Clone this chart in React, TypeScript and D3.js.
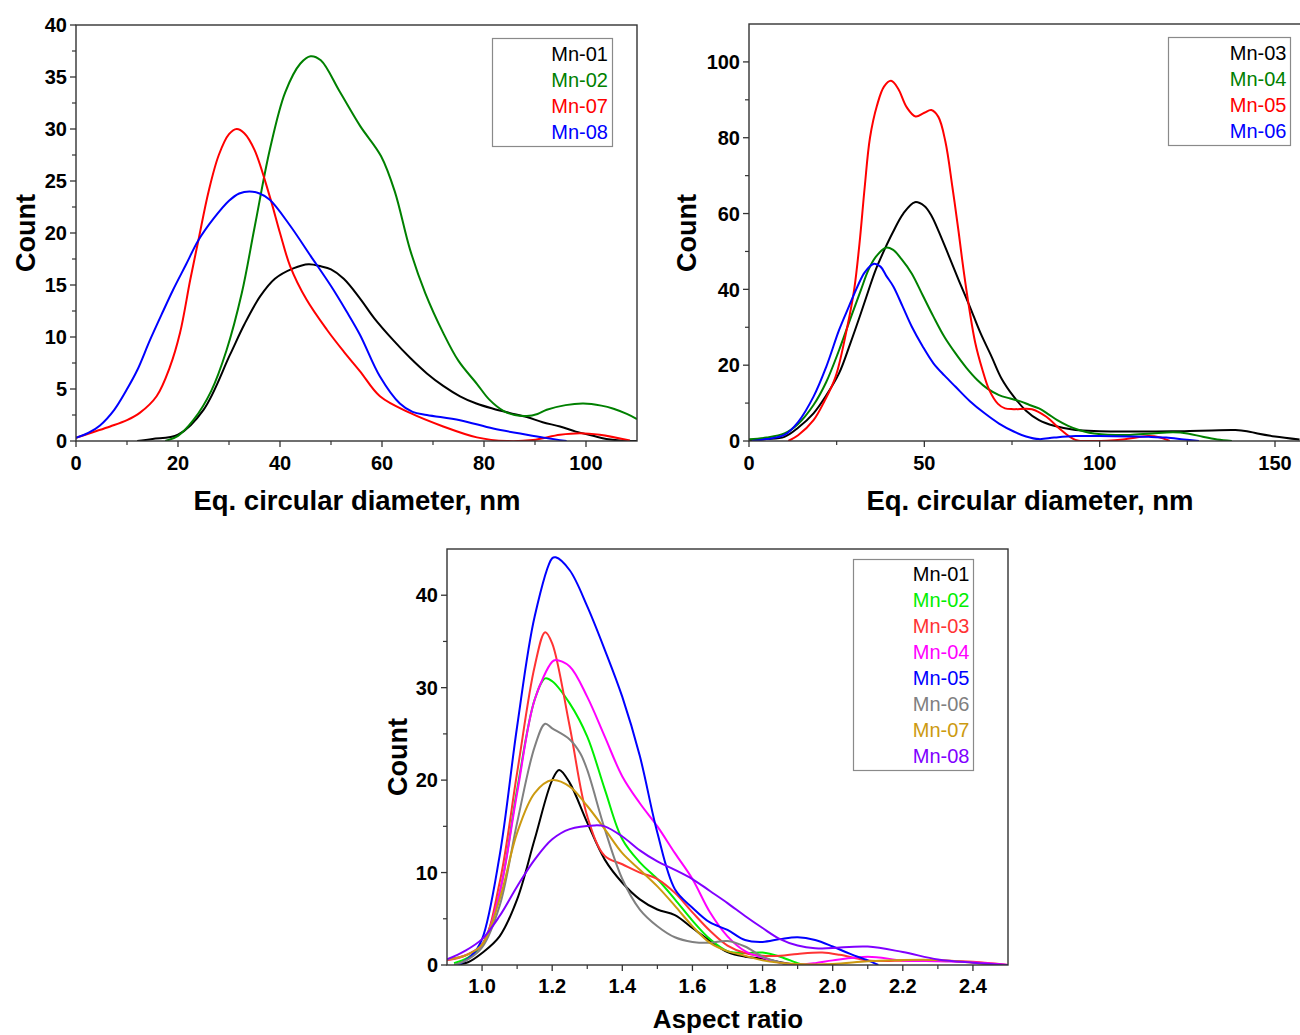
import React from "react";
import * as d3 from "d3";

type Pt = [number, number];

// ---------- Panel A: equivalent circular diameter (Mn-01, 02, 07, 08) ----------
const diamA_mn01: Pt[] = [[12,0],[15,0.2],[20,0.6],[25,3],[30.2,8.3],[33,11.2],[36.1,13.9],[39,15.6],[42.6,16.6],[45.6,17],[48,16.8],[50,16.5],[52.5,15.6],[55.7,13.7],[58.5,11.8],[62.2,9.7],[65.5,8],[68.8,6.5],[72,5.3],[75.3,4.3],[78.5,3.6],[81.8,3.1],[85,2.7],[88.4,2.3],[91.5,1.8],[94.9,1.4],[98,0.9],[101.4,0.5],[104,0.2],[106.7,0.05],[110,0]];
const diamA_mn02: Pt[] = [[17.5,0],[20,0.5],[23,2],[26.5,4.8],[29.5,8.7],[32.5,14.2],[35,20.5],[38,28],[41,33.5],[44,36.3],[46,37],[48,36.6],[51.7,33.6],[55.7,30.3],[59.8,27.4],[62.5,24],[65.5,18.4],[68.5,14.2],[72,10.4],[75,7.7],[78.6,5.5],[81,4],[83.8,2.9],[86,2.5],[88.4,2.4],[90.5,2.6],[92.3,3.0],[96,3.45],[99.5,3.6],[103,3.4],[105.4,3.1],[108,2.6],[110,2.1]];
const diamA_mn07: Pt[] = [[0,0.3],[3,0.8],[6.7,1.4],[10,2],[12.5,2.7],[15.8,4.3],[18.4,7.1],[20.4,10.4],[22.4,15.5],[24,19.3],[26,24],[28,27.5],[30,29.5],[31.5,30],[33,29.6],[35,28],[38,23.5],[40,20],[42,16.8],[45.2,13.6],[49.2,10.7],[52.5,8.6],[55.7,6.7],[59.6,4.3],[65.5,2.7],[72,1.4],[78.6,0.35],[84.5,0],[89.6,0.1],[94.9,0.6],[98.8,0.75],[102.7,0.6],[108.6,0.05]];
const diamA_mn08: Pt[] = [[0,0.3],[2.5,0.8],[4.7,1.5],[7.5,3],[9.9,4.9],[12,6.8],[14.5,9.7],[17,12.4],[19,14.5],[21.5,16.9],[24,19.3],[27,21.4],[30,23.1],[32,23.8],[34,24],[36,23.8],[38,23.2],[42,20.7],[46,17.8],[50,14.9],[53,12.5],[55.7,10.2],[59.6,6.2],[63.5,3.6],[66,2.8],[68.8,2.5],[75.3,2.0],[81.8,1.2],[88.4,0.6],[92,0.3],[96.2,0]];

// ---------- Panel B: equivalent circular diameter (Mn-03..06) ----------
const diamB_mn03: Pt[] = [[0,0.2],[5,0.5],[10.1,1.1],[14,3.5],[18.4,7.3],[22,12],[25.7,17.9],[28.8,25.5],[31.9,33.7],[34,39.5],[36.1,45.1],[38.6,50.4],[41,55],[44,60],[47.3,63],[50,62],[52,59.5],[54,55.5],[56.3,50.4],[60,42],[63,35.4],[66,28.5],[69.2,22.2],[72,16.5],[75.5,11.7],[79,8],[82.7,5.5],[87,4],[93.1,2.9],[100,2.6],[108.6,2.5],[116,2.5],[124.2,2.6],[132,2.8],[138.7,2.9],[142,2.6],[145,2.0],[150,1.2],[157,0.4]];
const diamB_mn04: Pt[] = [[0,0.45],[5,0.9],[10.1,2],[14,4.5],[18.4,9.5],[22,15.5],[25.7,24],[29,32.5],[31.9,39.8],[34,45],[36.1,48.5],[39,51],[41,50.5],[43.5,48],[46.4,44.2],[49.5,38.5],[52.6,32.8],[55.7,27.5],[58.9,23.1],[62,19.3],[65.1,16.1],[68,13.8],[71.3,12.1],[74.5,11.2],[77.6,10.4],[80,9.5],[82.7,8.6],[85.3,7.1],[87.9,5.5],[91,4],[94.1,2.9],[97,2.2],[100.4,1.8],[104.5,1.6],[108.6,1.6],[115,2],[121,2.3],[125,2],[129.4,1.1],[133.5,0.4],[137.7,0]];
const diamB_mn05: Pt[] = [[11.2,0],[14,1.5],[18.4,5.5],[21.5,10.5],[24.7,17],[28,30],[30,40],[31.5,52],[33,67],[34.5,80],[36.5,88.5],[38.5,93.5],[40.5,95],[42.5,93],[45,88],[47.5,85.6],[50,86.6],[52,87.3],[54,85.5],[56,79],[58,67],[59.8,55],[61.2,45],[62.8,35],[64.5,26],[66.5,19],[68.5,13.5],[71,9.8],[73,8.6],[75.5,8.4],[80.7,8.4],[84.8,6.4],[89,2.9],[93.1,0.3],[98.3,0],[106.6,0.4],[113.8,1.3],[117,1.0],[120,0]];
const diamB_mn06: Pt[] = [[0.8,0],[5,0.5],[10.1,1.6],[14,5],[18.4,11.7],[22,19.5],[25.7,29.3],[28.5,35.5],[30.9,40.7],[33,44.5],[35.5,46.7],[37.5,46],[39.2,43.5],[41.2,40.7],[43.8,35.5],[46.4,30.2],[49.5,25],[52.6,20.5],[55.7,17.3],[58.9,14.3],[63,10.5],[67.2,7.3],[71.3,4.6],[75.5,2.5],[79,1.2],[82.7,0.5],[87,0.9],[93.1,1.3],[100,1.3],[108.6,1.2],[114,1.1],[119,0.9],[124,0.4],[128.3,0]];

// ---------- Panel C: aspect ratio (Mn-01..08) ----------
const ar_mn01: Pt[] = [[0.92,0],[0.96,0.3],[1.0,1.3],[1.05,3.1],[1.1,7.1],[1.15,13.6],[1.2,20],[1.22,21.1],[1.25,19.7],[1.3,15.4],[1.35,11.4],[1.4,8.9],[1.45,7.1],[1.5,6.0],[1.55,5.4],[1.6,4.0],[1.65,2.6],[1.7,1.4],[1.75,0.9],[1.8,0.7],[1.85,0.3],[1.9,0]];
const ar_mn02: Pt[] = [[0.92,0.2],[0.96,0.8],[1.0,2.2],[1.05,7.8],[1.1,19],[1.15,28.7],[1.18,31],[1.2,30.7],[1.25,28.3],[1.3,24.7],[1.35,19],[1.4,13.6],[1.45,11.1],[1.5,9.3],[1.55,7.1],[1.6,4.8],[1.65,2.8],[1.7,1.5],[1.75,1.3],[1.8,1.35],[1.85,0.9],[1.9,0.2],[1.92,0]];
const ar_mn03: Pt[] = [[0.9,0.5],[0.95,1.0],[1.0,2.2],[1.05,8.9],[1.1,20.8],[1.15,32.3],[1.18,36],[1.2,34.8],[1.25,25.8],[1.3,16.1],[1.35,11.8],[1.4,10.9],[1.45,10],[1.5,9.3],[1.55,7.8],[1.6,5.7],[1.65,3.7],[1.7,2.1],[1.75,1.3],[1.8,1.0],[1.85,1.0],[1.9,1.2],[1.97,1.35],[2.02,1.1],[2.07,0.7],[2.1,0.5],[2.2,0.45],[2.3,0.5],[2.4,0.35],[2.5,0]];
const ar_mn04: Pt[] = [[0.9,0.6],[0.95,1.0],[1.0,2.2],[1.05,7.8],[1.1,18.6],[1.15,28.7],[1.2,32.8],[1.21,33],[1.25,32.3],[1.3,29],[1.35,24.7],[1.4,20.4],[1.45,17.5],[1.5,15],[1.55,12.1],[1.6,9.3],[1.65,5.7],[1.7,3.1],[1.75,1.5],[1.8,0.8],[1.85,0.25],[1.9,0.05],[1.95,0.2],[2.0,0.5],[2.1,0.9],[2.2,0.5],[2.3,0.4],[2.4,0.3],[2.5,0]];
const ar_mn05: Pt[] = [[0.93,0],[0.97,1],[1.0,2.8],[1.05,11.8],[1.1,25.8],[1.15,37.7],[1.2,44],[1.21,44.1],[1.25,42.7],[1.3,38.8],[1.35,34.1],[1.4,29],[1.45,22.6],[1.5,14.3],[1.55,8.2],[1.6,6.2],[1.65,4.6],[1.7,3.8],[1.75,2.7],[1.8,2.5],[1.85,2.8],[1.9,3.0],[1.95,2.7],[2.0,2.0],[2.05,1.2],[2.1,0.5],[2.13,0]];
const ar_mn06: Pt[] = [[0.92,0],[0.96,0.6],[1.0,1.9],[1.05,6.4],[1.1,15.4],[1.15,23.6],[1.18,26.1],[1.2,25.6],[1.25,24.4],[1.28,22.9],[1.3,21.1],[1.35,14.7],[1.4,9.3],[1.45,6.0],[1.5,4.2],[1.55,3.0],[1.6,2.5],[1.65,2.4],[1.7,2.6],[1.75,2.0],[1.8,0.9],[1.85,0.25],[1.87,0]];
const ar_mn07: Pt[] = [[0.9,0.6],[0.95,1.0],[1.0,2.2],[1.05,7.1],[1.1,14.3],[1.15,18.6],[1.2,20],[1.25,19.3],[1.3,17.2],[1.35,14.7],[1.4,12.1],[1.45,10.3],[1.5,8.5],[1.55,6.4],[1.6,4.2],[1.65,2.4],[1.7,1.5],[1.75,1.0],[1.8,0.5],[1.9,0.1],[2.0,0.1],[2.1,0.4],[2.2,0.55],[2.3,0.55],[2.4,0.25],[2.45,0]];
const ar_mn08: Pt[] = [[0.9,0.6],[0.95,1.5],[1.0,2.8],[1.05,5.3],[1.1,8.5],[1.15,11.4],[1.2,13.6],[1.25,14.7],[1.32,15.1],[1.35,15],[1.4,13.9],[1.45,12.4],[1.5,11.2],[1.55,10.3],[1.6,9.3],[1.65,8],[1.7,6.7],[1.75,5.3],[1.8,4],[1.85,2.8],[1.9,2.1],[1.95,1.8],[2.0,1.85],[2.1,2.0],[2.2,1.4],[2.3,0.6],[2.4,0.25],[2.5,0]];

// ---------- labels and ticks ----------
const labelsA = ["Mn-01", "Mn-02", "Mn-07", "Mn-08"];
const labelsB = ["Mn-03", "Mn-04", "Mn-05", "Mn-06"];
const labelsC = ["Mn-01", "Mn-02", "Mn-03", "Mn-04", "Mn-05", "Mn-06", "Mn-07", "Mn-08"];

const xTicksA = [0, 20, 40, 60, 80, 100];
const xMinorA = [10, 30, 50, 70, 90];
const yTicksA = [0, 5, 10, 15, 20, 25, 30, 35, 40];
const yMinorA = [2.5, 7.5, 12.5, 17.5, 22.5, 27.5, 32.5, 37.5];

const xTicksB = [0, 50, 100, 150];
const xMinorB = [25, 75, 125];
const yTicksB = [0, 20, 40, 60, 80, 100];
const yMinorB = [10, 30, 50, 70, 90];

const xTicksC = [1.0, 1.2, 1.4, 1.6, 1.8, 2.0, 2.2, 2.4];
const xMinorC = [1.1, 1.3, 1.5, 1.7, 1.9, 2.1, 2.3];
const yTicksC = [0, 10, 20, 30, 40];
const yMinorC = [5, 15, 25, 35];

const colorsAB = ["#000000", "#008000", "#ff0000", "#0000ff"];
const colorsC = ["#000000", "#00ee00", "#ff3333", "#ff00ff", "#0000ff", "#808080", "#cc9a10", "#8000ff"];

const FONT = "'Liberation Sans', Arial, Helvetica, sans-serif";
const AXIS = "#333333";

interface PanelProps {
  id: string;
  left: number; right: number; top: number; bottom: number;
  xDomain: [number, number]; yDomain: [number, number];
  xTicks: number[]; xMinor: number[]; yTicks: number[]; yMinor: number[];
  xFmt: (v: number) => string;
  series: Pt[][]; labels: string[]; colors: string[];
  legend: { x0: number; x1: number; y0: number; y1: number; textX: number; firstBase: number };
  xTitle: string; xTitleX: number; xTitleY: number; xTitleSize: number;
  yTitleX: number; yTitleY: number;
  xLabelDy: number;
}

function Panel(p: PanelProps) {
  const x = d3.scaleLinear().domain(p.xDomain).range([p.left, p.right]);
  const y = d3.scaleLinear().domain(p.yDomain).range([p.bottom, p.top]);
  const line = d3.line<Pt>().x(d => x(d[0])).y(d => y(d[1])).curve(d3.curveCatmullRom.alpha(0.5));
  const clipId = `clip-${p.id}`;
  return (
    <g>
      <defs>
        <clipPath id={clipId}>
          <rect x={p.left} y={p.top} width={p.right - p.left} height={p.bottom - p.top} />
        </clipPath>
      </defs>
      <g clipPath={`url(#${clipId})`}>
        {p.series.map((s, i) => (
          <path key={i} d={line(s) || ""} fill="none" stroke={p.colors[i]} strokeWidth={2} strokeLinejoin="round" />
        ))}
      </g>
      {/* frame */}
      <rect x={p.left} y={p.top} width={p.right - p.left} height={p.bottom - p.top} fill="none" stroke={AXIS} strokeWidth={1.4} />
      {/* x ticks */}
      {p.xTicks.map(t => (
        <g key={`xt${t}`}>
          <line x1={x(t)} x2={x(t)} y1={p.bottom} y2={p.bottom + 6} stroke={AXIS} strokeWidth={1.3} />
          <text x={x(t)} y={p.bottom + p.xLabelDy} textAnchor="middle"
            fontFamily={FONT} fontWeight="bold" fontSize={20} fill="#000">{p.xFmt(t)}</text>
        </g>
      ))}
      {p.xMinor.map(t => (
        <line key={`xm${t}`} x1={x(t)} x2={x(t)} y1={p.bottom} y2={p.bottom + 4} stroke={AXIS} strokeWidth={1.2} />
      ))}
      {/* y ticks */}
      {p.yTicks.map(t => (
        <g key={`yt${t}`}>
          <line x1={p.left - 6} x2={p.left} y1={y(t)} y2={y(t)} stroke={AXIS} strokeWidth={1.3} />
          <text x={p.left - 9} y={y(t) + 7.2} textAnchor="end"
            fontFamily={FONT} fontWeight="bold" fontSize={20} fill="#000">{t}</text>
        </g>
      ))}
      {p.yMinor.map(t => (
        <line key={`ym${t}`} x1={p.left - 4} x2={p.left} y1={y(t)} y2={y(t)} stroke={AXIS} strokeWidth={1.2} />
      ))}
      {/* titles */}
      <text x={p.xTitleX} y={p.xTitleY} textAnchor="middle"
        fontFamily={FONT} fontWeight="bold" fontSize={p.xTitleSize} fill="#000">{p.xTitle}</text>
      <text transform={`translate(${p.yTitleX},${p.yTitleY}) rotate(-90)`} textAnchor="middle"
        fontFamily={FONT} fontWeight="bold" fontSize={27} fill="#000">Count</text>
      {/* legend */}
      <rect x={p.legend.x0} y={p.legend.y0} width={p.legend.x1 - p.legend.x0} height={p.legend.y1 - p.legend.y0}
        fill="#fff" stroke="#8a8a8a" strokeWidth={1.2} />
      {p.labels.map((lab, i) => (
        <text key={lab} x={p.legend.textX} y={p.legend.firstBase + 26 * i}
          textAnchor="end" fontFamily={FONT} fontSize={20} fill={p.colors[i]}>{lab}</text>
      ))}
    </g>
  );
}

export default function App() {
  return (
    <svg width={1300} height={1035} viewBox="0 0 1300 1035"
      style={{ position: "absolute", left: 0, top: 0, background: "#fff" }}>
      <rect x={0} y={0} width={1300} height={1035} fill="#fff" />
      <Panel id="a" left={76} right={637} top={25} bottom={441}
        xDomain={[0, 110]} yDomain={[0, 40]}
        xTicks={xTicksA} xMinor={xMinorA} yTicks={yTicksA} yMinor={yMinorA}
        xFmt={v => String(v)}
        series={[diamA_mn01, diamA_mn02, diamA_mn07, diamA_mn08]} labels={labelsA} colors={colorsAB}
        legend={{ x0: 492.5, x1: 612.5, y0: 38.5, y1: 146.5, textX: 608, firstBase: 60.5 }}
        xTitle="Eq. circular diameter, nm" xTitleX={357} xTitleY={510} xTitleSize={27.5}
        yTitleX={35} yTitleY={233} xLabelDy={28.5} />
      <Panel id="b" left={749} right={749 + 158 * 3.5067} top={24} bottom={441}
        xDomain={[0, 158]} yDomain={[0, 110]}
        xTicks={xTicksB} xMinor={xMinorB} yTicks={yTicksB} yMinor={yMinorB}
        xFmt={v => String(v)}
        series={[diamB_mn03, diamB_mn04, diamB_mn05, diamB_mn06]} labels={labelsB} colors={colorsAB}
        legend={{ x0: 1168.5, x1: 1290.5, y0: 37.5, y1: 145.5, textX: 1286.5, firstBase: 60 }}
        xTitle="Eq. circular diameter, nm" xTitleX={1030} xTitleY={510} xTitleSize={27.5}
        yTitleX={696} yTitleY={233} xLabelDy={28.5} />
      <Panel id="c" left={447} right={1008} top={549} bottom={965}
        xDomain={[0.9, 2.5]} yDomain={[0, 45]}
        xTicks={xTicksC} xMinor={xMinorC} yTicks={yTicksC} yMinor={yMinorC}
        xFmt={v => v.toFixed(1)}
        series={[ar_mn01, ar_mn02, ar_mn03, ar_mn04, ar_mn05, ar_mn06, ar_mn07, ar_mn08]} labels={labelsC} colors={colorsC}
        legend={{ x0: 853.5, x1: 973.5, y0: 559.5, y1: 770.5, textX: 969.5, firstBase: 580.5 }}
        xTitle="Aspect ratio" xTitleX={728} xTitleY={1028} xTitleSize={26}
        yTitleX={407} yTitleY={757} xLabelDy={28} />
    </svg>
  );
}
